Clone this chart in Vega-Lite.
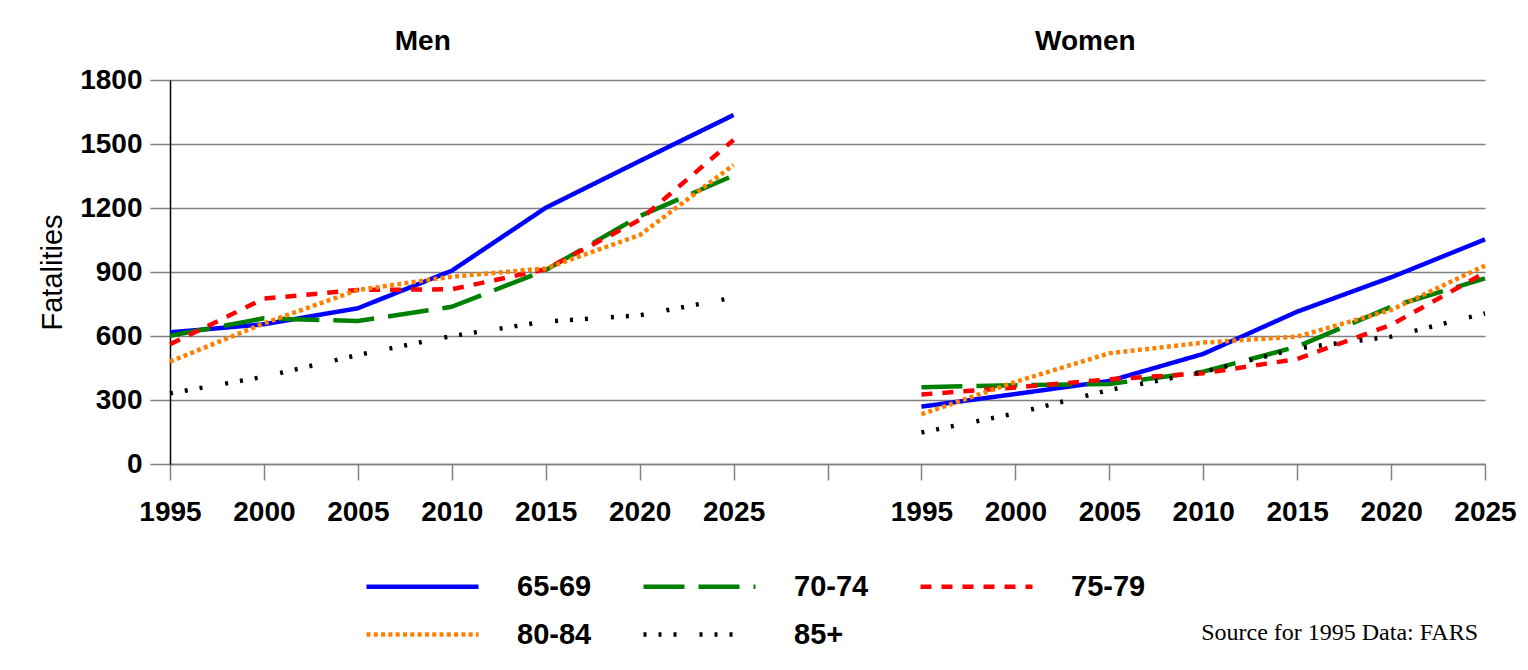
{
  "$schema": "https://vega.github.io/schema/vega-lite/v6.json",
  "width": 1315,
  "height": 384,
  "autosize": {"type": "none"},
  "padding": {"left": 170, "top": 80, "right": 43, "bottom": 206},
  "background": "white",
  "config": {"view": {"stroke": null}, "font": "Liberation Sans"},
  "layer": [
    {
      "data": {
        "values": [
          {"sex": "Men", "period": "M1995", "age": "65-69", "value": 617},
          {"sex": "Men", "period": "M2000", "age": "65-69", "value": 655},
          {"sex": "Men", "period": "M2005", "age": "65-69", "value": 730},
          {"sex": "Men", "period": "M2010", "age": "65-69", "value": 906},
          {"sex": "Men", "period": "M2015", "age": "65-69", "value": 1201},
          {"sex": "Men", "period": "M2020", "age": "65-69", "value": 1420},
          {"sex": "Men", "period": "M2025", "age": "65-69", "value": 1636},
          {"sex": "Men", "period": "M1995", "age": "70-74", "value": 601},
          {"sex": "Men", "period": "M2000", "age": "70-74", "value": 683},
          {"sex": "Men", "period": "M2005", "age": "70-74", "value": 670},
          {"sex": "Men", "period": "M2010", "age": "70-74", "value": 737},
          {"sex": "Men", "period": "M2015", "age": "70-74", "value": 909},
          {"sex": "Men", "period": "M2020", "age": "70-74", "value": 1162},
          {"sex": "Men", "period": "M2025", "age": "70-74", "value": 1352},
          {"sex": "Men", "period": "M1995", "age": "75-79", "value": 561},
          {"sex": "Men", "period": "M2000", "age": "75-79", "value": 775},
          {"sex": "Men", "period": "M2005", "age": "75-79", "value": 816},
          {"sex": "Men", "period": "M2010", "age": "75-79", "value": 819},
          {"sex": "Men", "period": "M2015", "age": "75-79", "value": 913},
          {"sex": "Men", "period": "M2020", "age": "75-79", "value": 1144},
          {"sex": "Men", "period": "M2025", "age": "75-79", "value": 1519},
          {"sex": "Men", "period": "M1995", "age": "80-84", "value": 480},
          {"sex": "Men", "period": "M2000", "age": "80-84", "value": 659},
          {"sex": "Men", "period": "M2005", "age": "80-84", "value": 816},
          {"sex": "Men", "period": "M2010", "age": "80-84", "value": 878},
          {"sex": "Men", "period": "M2015", "age": "80-84", "value": 917},
          {"sex": "Men", "period": "M2020", "age": "80-84", "value": 1073},
          {"sex": "Men", "period": "M2025", "age": "80-84", "value": 1402},
          {"sex": "Men", "period": "M1995", "age": "85+", "value": 331},
          {"sex": "Men", "period": "M2000", "age": "85+", "value": 409},
          {"sex": "Men", "period": "M2005", "age": "85+", "value": 511},
          {"sex": "Men", "period": "M2010", "age": "85+", "value": 600},
          {"sex": "Men", "period": "M2015", "age": "85+", "value": 668},
          {"sex": "Men", "period": "M2020", "age": "85+", "value": 697},
          {"sex": "Men", "period": "M2025", "age": "85+", "value": 780},
          {"sex": "Women", "period": "W1995", "age": "65-69", "value": 269},
          {"sex": "Women", "period": "W2000", "age": "65-69", "value": 328},
          {"sex": "Women", "period": "W2005", "age": "65-69", "value": 389},
          {"sex": "Women", "period": "W2010", "age": "65-69", "value": 516},
          {"sex": "Women", "period": "W2015", "age": "65-69", "value": 714},
          {"sex": "Women", "period": "W2020", "age": "65-69", "value": 875},
          {"sex": "Women", "period": "W2025", "age": "65-69", "value": 1053},
          {"sex": "Women", "period": "W1995", "age": "70-74", "value": 360},
          {"sex": "Women", "period": "W2000", "age": "70-74", "value": 369},
          {"sex": "Women", "period": "W2005", "age": "70-74", "value": 375},
          {"sex": "Women", "period": "W2010", "age": "70-74", "value": 433},
          {"sex": "Women", "period": "W2015", "age": "70-74", "value": 550},
          {"sex": "Women", "period": "W2020", "age": "70-74", "value": 737},
          {"sex": "Women", "period": "W2025", "age": "70-74", "value": 870},
          {"sex": "Women", "period": "W1995", "age": "75-79", "value": 326},
          {"sex": "Women", "period": "W2000", "age": "75-79", "value": 359},
          {"sex": "Women", "period": "W2005", "age": "75-79", "value": 397},
          {"sex": "Women", "period": "W2010", "age": "75-79", "value": 425},
          {"sex": "Women", "period": "W2015", "age": "75-79", "value": 492},
          {"sex": "Women", "period": "W2020", "age": "75-79", "value": 652},
          {"sex": "Women", "period": "W2025", "age": "75-79", "value": 897},
          {"sex": "Women", "period": "W1995", "age": "80-84", "value": 233},
          {"sex": "Women", "period": "W2000", "age": "80-84", "value": 385},
          {"sex": "Women", "period": "W2005", "age": "80-84", "value": 519},
          {"sex": "Women", "period": "W2010", "age": "80-84", "value": 569},
          {"sex": "Women", "period": "W2015", "age": "80-84", "value": 597},
          {"sex": "Women", "period": "W2020", "age": "80-84", "value": 722},
          {"sex": "Women", "period": "W2025", "age": "80-84", "value": 930},
          {"sex": "Women", "period": "W1995", "age": "85+", "value": 148},
          {"sex": "Women", "period": "W2000", "age": "85+", "value": 237},
          {"sex": "Women", "period": "W2005", "age": "85+", "value": 347},
          {"sex": "Women", "period": "W2010", "age": "85+", "value": 431},
          {"sex": "Women", "period": "W2015", "age": "85+", "value": 542},
          {"sex": "Women", "period": "W2020", "age": "85+", "value": 597},
          {"sex": "Women", "period": "W2025", "age": "85+", "value": 706}
        ]
      },
      "mark": {"type": "line", "strokeWidth": 4.5, "strokeCap": "butt", "strokeJoin": "round"},
      "encoding": {
        "x": {
          "field": "period",
          "type": "ordinal",
          "scale": {
            "type": "point",
            "padding": 0,
            "domain": ["M1995", "M2000", "M2005", "M2010", "M2015", "M2020", "M2025", "gap", "W1995", "W2000", "W2005", "W2010", "W2015", "W2020", "W2025"]
          },
          "axis": {
            "title": null,
            "labelExpr": "datum.value == 'gap' ? '' : substring(datum.value, 1)",
            "labelAngle": 0,
            "labelFont": "Liberation Sans",
            "labelFontWeight": "bold",
            "labelFontSize": 28,
            "labelColor": "black",
            "labelPadding": 18,
            "labelOverlap": false,
            "domainColor": "#808080",
            "domainWidth": 1.5,
            "tickColor": "#808080",
            "tickWidth": 1.5,
            "tickSize": 16,
            "grid": false
          }
        },
        "y": {
          "field": "value",
          "type": "quantitative",
          "scale": {"domain": [0, 1800], "nice": false},
          "axis": {
            "values": [0, 300, 600, 900, 1200, 1500, 1800],
            "format": "d",
            "title": "Fatalities",
            "titleFont": "Liberation Sans",
            "titleFontSize": 29,
            "titleFontWeight": "normal",
            "titleColor": "black",
            "titlePadding": 12,
            "labelFont": "Liberation Sans",
            "labelFontWeight": "bold",
            "labelFontSize": 28,
            "labelColor": "black",
            "labelPadding": 8,
            "domainColor": "black",
            "domainWidth": 1.5,
            "tickColor": "#808080",
            "tickWidth": 1.5,
            "tickSize": 20,
            "grid": true,
            "gridColor": "#808080",
            "gridWidth": 1.5
          }
        },
        "color": {
          "field": "age",
          "type": "nominal",
          "scale": {
            "domain": ["65-69", "70-74", "75-79", "80-84", "85+"],
            "range": ["#0000FF", "#008000", "#FF0000", "#FF8000", "#000000"]
          },
          "legend": {
            "title": null,
            "orient": "none",
            "legendX": 236,
            "legendY": 490,
            "direction": "horizontal",
            "columns": 3,
            "padding": 0,
            "symbolType": "M-4,0H4",
            "symbolSize": 784,
            "symbolStrokeWidth": 4.5,
            "labelFont": "Liberation Sans",
            "labelFontWeight": "bold",
            "labelFontSize": 29,
            "labelColor": "black",
            "labelOffset": 78,
            "labelLimit": 300,
            "columnPadding": 42,
            "rowPadding": 16
          }
        },
        "strokeDash": {
          "field": "age",
          "type": "nominal",
          "scale": {
            "domain": ["65-69", "70-74", "75-79", "80-84", "85+"],
            "range": [[1, 0], [41, 14], [11, 10], [4, 3.3], [3, 12, 3, 12, 3, 23]]
          },
          "legend": {
            "title": null,
            "orient": "none",
            "legendX": 236,
            "legendY": 490,
            "direction": "horizontal",
            "columns": 3,
            "padding": 0,
            "symbolType": "M-4,0H4",
            "symbolSize": 784,
            "symbolStrokeWidth": 4.5,
            "labelFont": "Liberation Sans",
            "labelFontWeight": "bold",
            "labelFontSize": 29,
            "labelColor": "black",
            "labelOffset": 78,
            "labelLimit": 300,
            "columnPadding": 42,
            "rowPadding": 16
          }
        },
        "detail": {"field": "sex", "type": "nominal"}
      }
    },
    {
      "data": {"values": [{}]},
      "mark": {"type": "text", "text": "Men", "font": "Liberation Sans", "fontWeight": "bold", "fontSize": 28, "color": "black", "align": "center", "baseline": "middle", "dx": -29, "dy": -38},
      "encoding": {"x": {"datum": "M2010", "type": "ordinal"}, "y": {"datum": 1800, "type": "quantitative"}}
    },
    {
      "data": {"values": [{}]},
      "mark": {"type": "text", "text": "Women", "font": "Liberation Sans", "fontWeight": "bold", "fontSize": 28, "color": "black", "align": "center", "baseline": "middle", "dx": -24, "dy": -38},
      "encoding": {"x": {"datum": "W2005", "type": "ordinal"}, "y": {"datum": 1800, "type": "quantitative"}}
    },
    {
      "data": {"values": [{}]},
      "mark": {"type": "text", "text": "Source for 1995 Data: FARS", "font": "Liberation Serif", "fontSize": 24, "color": "black", "align": "right", "baseline": "middle", "dx": -7, "dy": 169},
      "encoding": {"x": {"datum": "W2025", "type": "ordinal"}, "y": {"datum": 0, "type": "quantitative"}}
    }
  ]
}
